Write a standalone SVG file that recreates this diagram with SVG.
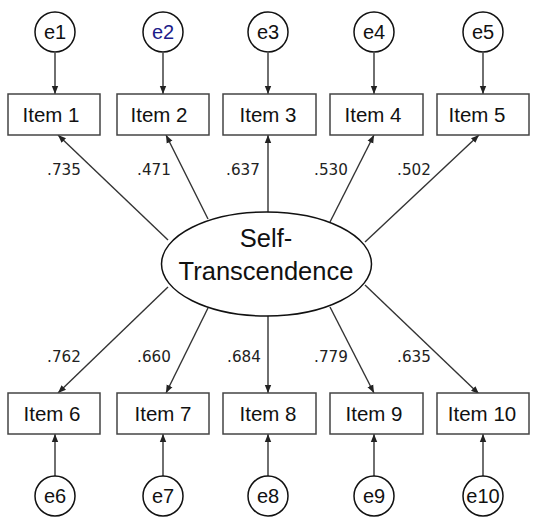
<svg xmlns="http://www.w3.org/2000/svg" width="536" height="524" viewBox="0 0 536 524">
<defs>
<marker id="ah" viewBox="0 0 10 10" refX="10" refY="5" markerWidth="8" markerHeight="8" markerUnits="userSpaceOnUse" orient="auto">
<path d="M0,1 L10,5 L0,9 Z" fill="#222"/>
</marker>
</defs>
<style>
.box{fill:#fff;stroke:#444;stroke-width:1.5}
.err{fill:#fff;stroke:#111;stroke-width:1.5}
.lv{fill:#fff;stroke:#111;stroke-width:1.5}
.it{font-family:"Liberation Sans",Arial,sans-serif;font-size:20.5px;fill:#111;text-anchor:middle}
.et{font-family:"Liberation Sans",Arial,sans-serif;font-size:20px;fill:#111;text-anchor:middle}
.lt{font-family:"Liberation Sans",Arial,sans-serif;font-size:25.5px;fill:#111;text-anchor:middle}
.w{font-family:"DejaVu Sans",Verdana,sans-serif;font-size:15.2px;fill:#222;text-anchor:middle}
.c line{stroke:#333;stroke-width:1.4;marker-end:url(#ah)}
</style>
<rect width="536" height="524" fill="#fff"/>
<g id="connectors" class="c">
<line x1="55" y1="53" x2="55" y2="94"/>
<line x1="163" y1="53" x2="163" y2="94"/>
<line x1="268" y1="53" x2="268" y2="94"/>
<line x1="374" y1="53" x2="374" y2="94"/>
<line x1="483" y1="53" x2="483" y2="94"/>
<line x1="55" y1="476" x2="55" y2="434"/>
<line x1="163" y1="476" x2="163" y2="434"/>
<line x1="268" y1="476" x2="268" y2="434"/>
<line x1="374" y1="476" x2="374" y2="434"/>
<line x1="483" y1="476" x2="483" y2="434"/>
<line x1="168" y1="240" x2="58" y2="135"/>
<line x1="208" y1="219" x2="166" y2="135"/>
<line x1="268" y1="212" x2="268" y2="135"/>
<line x1="330" y1="222" x2="374" y2="135"/>
<line x1="365" y1="242" x2="479" y2="135"/>
<line x1="168" y1="287" x2="58" y2="393"/>
<line x1="208" y1="308" x2="166" y2="393"/>
<line x1="268" y1="316" x2="268" y2="393"/>
<line x1="330" y1="307" x2="374" y2="393"/>
<line x1="365" y1="285" x2="479" y2="394"/>
</g>
<g id="weights">
<text class="w" x="64" y="175">.735</text>
<text class="w" x="154" y="175">.471</text>
<text class="w" x="243" y="175">.637</text>
<text class="w" x="331" y="175">.530</text>
<text class="w" x="414" y="175">.502</text>
<text class="w" x="64" y="362">.762</text>
<text class="w" x="154" y="362">.660</text>
<text class="w" x="244" y="362">.684</text>
<text class="w" x="331" y="362">.779</text>
<text class="w" x="414" y="362">.635</text>
</g>
<g id="latent"><ellipse class="lv" cx="266.5" cy="264" rx="105" ry="52"/><text class="lt" x="266" y="247">Self-</text><text class="lt" x="266" y="280">Transcendence</text></g>
<g id="e1"><circle class="err" cx="55" cy="32" r="20"/><text class="et" x="55" y="39">e1</text></g>
<g id="e2"><circle class="err" cx="163" cy="32" r="20"/><text class="et" x="163" y="39" style="fill:#1c1c8a">e2</text></g>
<g id="e3"><circle class="err" cx="268" cy="32" r="20"/><text class="et" x="268" y="39">e3</text></g>
<g id="e4"><circle class="err" cx="374" cy="32" r="20"/><text class="et" x="374" y="39">e4</text></g>
<g id="e5"><circle class="err" cx="483" cy="32" r="20"/><text class="et" x="483" y="39">e5</text></g>
<g id="item1"><rect class="box" x="8" y="94" width="92" height="41"/><text class="it" x="51" y="122">Item 1</text></g>
<g id="item2"><rect class="box" x="117" y="94" width="92" height="41"/><text class="it" x="159" y="122">Item 2</text></g>
<g id="item3"><rect class="box" x="223" y="94" width="93" height="41"/><text class="it" x="268" y="122">Item 3</text></g>
<g id="item4"><rect class="box" x="330" y="94" width="93" height="41"/><text class="it" x="373" y="122">Item 4</text></g>
<g id="item5"><rect class="box" x="437" y="94" width="92" height="41"/><text class="it" x="477" y="122">Item 5</text></g>
<g id="item6"><rect class="box" x="8" y="393" width="92" height="41"/><text class="it" x="52" y="421">Item 6</text></g>
<g id="item7"><rect class="box" x="117" y="393" width="92" height="41"/><text class="it" x="163" y="421">Item 7</text></g>
<g id="item8"><rect class="box" x="223" y="393" width="93" height="41"/><text class="it" x="268" y="421">Item 8</text></g>
<g id="item9"><rect class="box" x="330" y="393" width="93" height="41"/><text class="it" x="374" y="421">Item 9</text></g>
<g id="item10"><rect class="box" x="437" y="393" width="92" height="41"/><text class="it" x="482" y="421">Item 10</text></g>
<g id="e6"><circle class="err" cx="55" cy="496" r="20"/><text class="et" x="55" y="503">e6</text></g>
<g id="e7"><circle class="err" cx="163" cy="496" r="20"/><text class="et" x="163" y="503">e7</text></g>
<g id="e8"><circle class="err" cx="268" cy="496" r="20"/><text class="et" x="268" y="503">e8</text></g>
<g id="e9"><circle class="err" cx="374" cy="496" r="20"/><text class="et" x="374" y="503">e9</text></g>
<g id="e10"><circle class="err" cx="483" cy="496" r="20"/><text class="et" x="483" y="503">e10</text></g>
</svg>
